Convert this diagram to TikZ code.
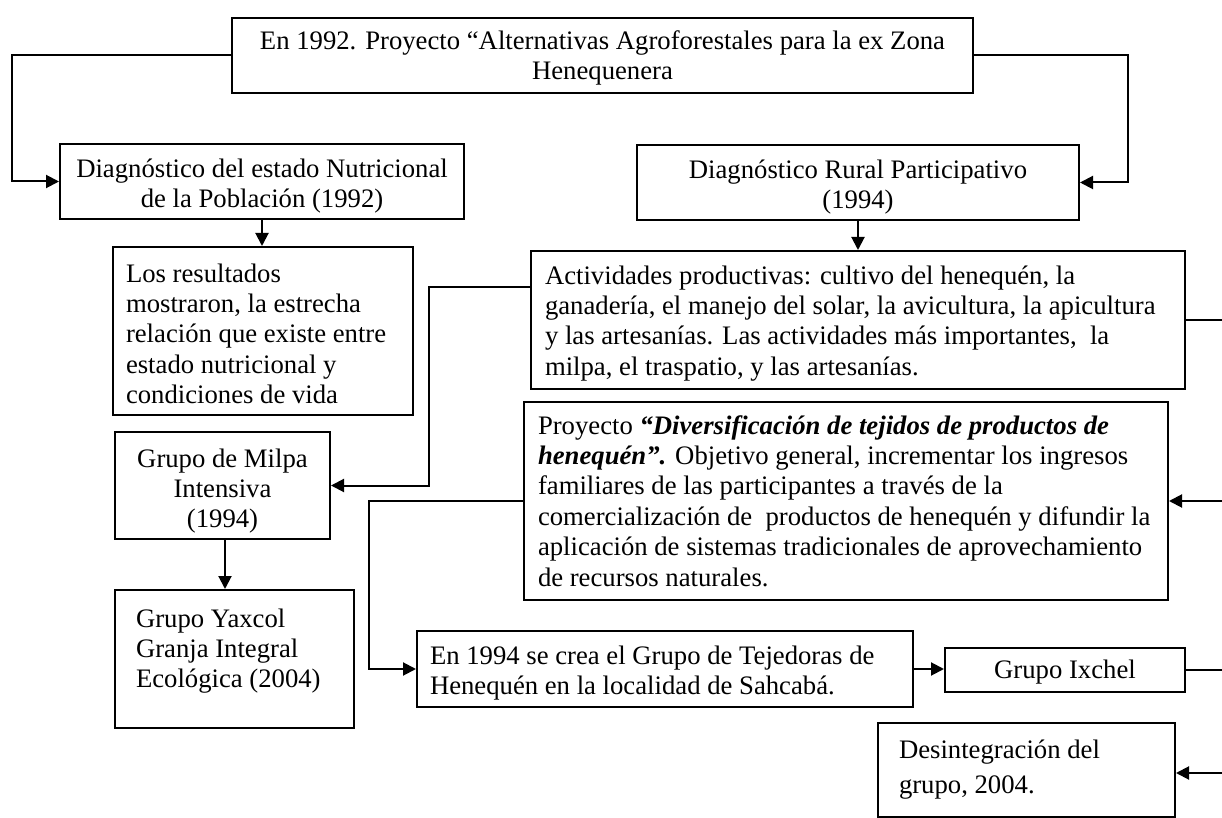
\documentclass[tikz,border=0pt]{standalone}
\usepackage{fontspec}
\setmainfont{Liberation Serif}
\usetikzlibrary{arrows.meta}
\begin{document}
\begin{tikzpicture}[x=0.5pt,y=-0.5pt,
  bx/.style={draw, line width=1pt, inner sep=0pt, anchor=north west,
    font=\fontsize{13.35pt}{15.2pt}\selectfont},
  arr/.style={line width=1pt, -{Triangle[length=6.5pt,width=6.5pt]}},
  ln/.style={line width=1pt}]
\fill[white] (0,0) rectangle (1222,818);
\useasboundingbox (0,0) rectangle (1222,818);
\coordinate (edge) at (1222,0);

\node[bx] (top) at (231,17) {\parbox[c][37.5pt][t]{370.5pt}{\centering\vspace*{4.9pt}\strut En 1992. Proyecto “Alternativas Agroforestales para la ex Zona\\ Henequenera}};

\node[bx] (diagN) at (59,143) {\parbox[c][37.5pt][t]{202pt}{\centering\vspace*{5.9pt}\strut Diagnóstico del estado Nutricional\\ de la Población (1992)}};

\node[bx] (diagR) at (636,144) {\parbox[c][37.5pt][t]{221pt}{\centering\vspace*{5.9pt}\strut Diagnóstico Rural Participativo\\ (1994)}};

\node[bx] (res) at (112,246) {\parbox[c][84pt][t]{150pt}{\raggedright\leftskip=6.5pt\vspace*{6.9pt}\strut Los resultados\\ mostraron, la estrecha\\ relación que existe entre\\ estado nutricional y\\ condiciones de vida}};

\node[bx] (act) at (530,250) {\parbox[c][69pt][t]{327pt}{\raggedright\leftskip=7pt\vspace*{5.9pt}\strut Actividades productivas: cultivo del henequén, la\\ ganadería, el manejo del solar, la avicultura, la apicultura\\ y las artesanías. Las actividades más importantes,\ \ la\\ milpa, el traspatio, y las artesanías.}};

\node[bx] (milpa) at (114,431) {\parbox[c][53.5pt][t]{107.5pt}{\centering\vspace*{6.9pt}\strut Grupo de Milpa\\ Intensiva\\ (1994)}};

\node[bx] (yax) at (114,589) {\parbox[c][69pt][t]{119.5pt}{\raggedright\leftskip=10.5pt\vspace*{7.9pt}\strut Grupo Yaxcol\\ Granja Integral\\ Ecológica (2004)}};

\node[bx] (proj) at (523,401) {\parbox[c][99pt][t]{322pt}{\raggedright\leftskip=7pt\vspace*{5.4pt}\strut Proyecto \textbf{\textit{“Diversificación de tejidos de productos de}}\\ \textbf{\textit{henequén”.}} Objetivo general, incrementar los ingresos\\ familiares de las participantes a través de la\\ comercialización de\ \ productos de henequén y difundir la\\ aplicación de sistemas tradicionales de aprovechamiento\\ de recursos naturales.}};

\node[bx] (tej) at (416,630) {\parbox[c][38pt][t]{248pt}{\raggedright\leftskip=6.5pt\vspace*{5.9pt}\strut En 1994 se crea el Grupo de Tejedoras de\\ Henequén en la localidad de Sahcabá.}};

\node[bx] (ixchel) at (944,647) {\parbox[c][22pt][t]{120pt}{\centering\vspace*{4.4pt}\strut Grupo Ixchel}};

\node[bx] (desint) at (877,722) {\parbox[c][47pt][t]{148.5pt}{\baselineskip=17.5pt\raggedright\leftskip=10.5pt\vspace*{7.25pt}\strut Desintegración del\\ grupo, 2004.}};

% connectors
\draw[arr] (top.west) -- ++(-219,0) |- (diagN.west);
\draw[arr] (top.east) -- ++(154,0) |- (diagR.east);
\draw[arr] (diagN.south) -- (diagN.south |- res.north);
\draw[arr] (diagR.south) -- (diagR.south |- act.north);
\coordinate (aW) at ([yshift=-18.5pt]act.north west);
\draw[arr] (aW) -- ++(-101,0) |- (milpa.east);
\draw[ln] (act.east) -- (act.east -| edge);
\coordinate (mS) at ([xshift=1.25pt]milpa.south);
\draw[arr] (mS) -- (mS |- yax.north);
\draw[arr] (proj.east -| edge) -- (proj.east);
\draw[arr] (proj.west) -- ++(-154,0) |- (tej.west);
\draw[arr] (tej.east) -- (tej.east -| ixchel.west);
\draw[ln] (ixchel.east) -- (ixchel.east -| edge);
\coordinate (dE) at ([yshift=-1.5pt]desint.east);
\draw[arr] (dE -| edge) -- (dE);
\end{tikzpicture}
\end{document}
